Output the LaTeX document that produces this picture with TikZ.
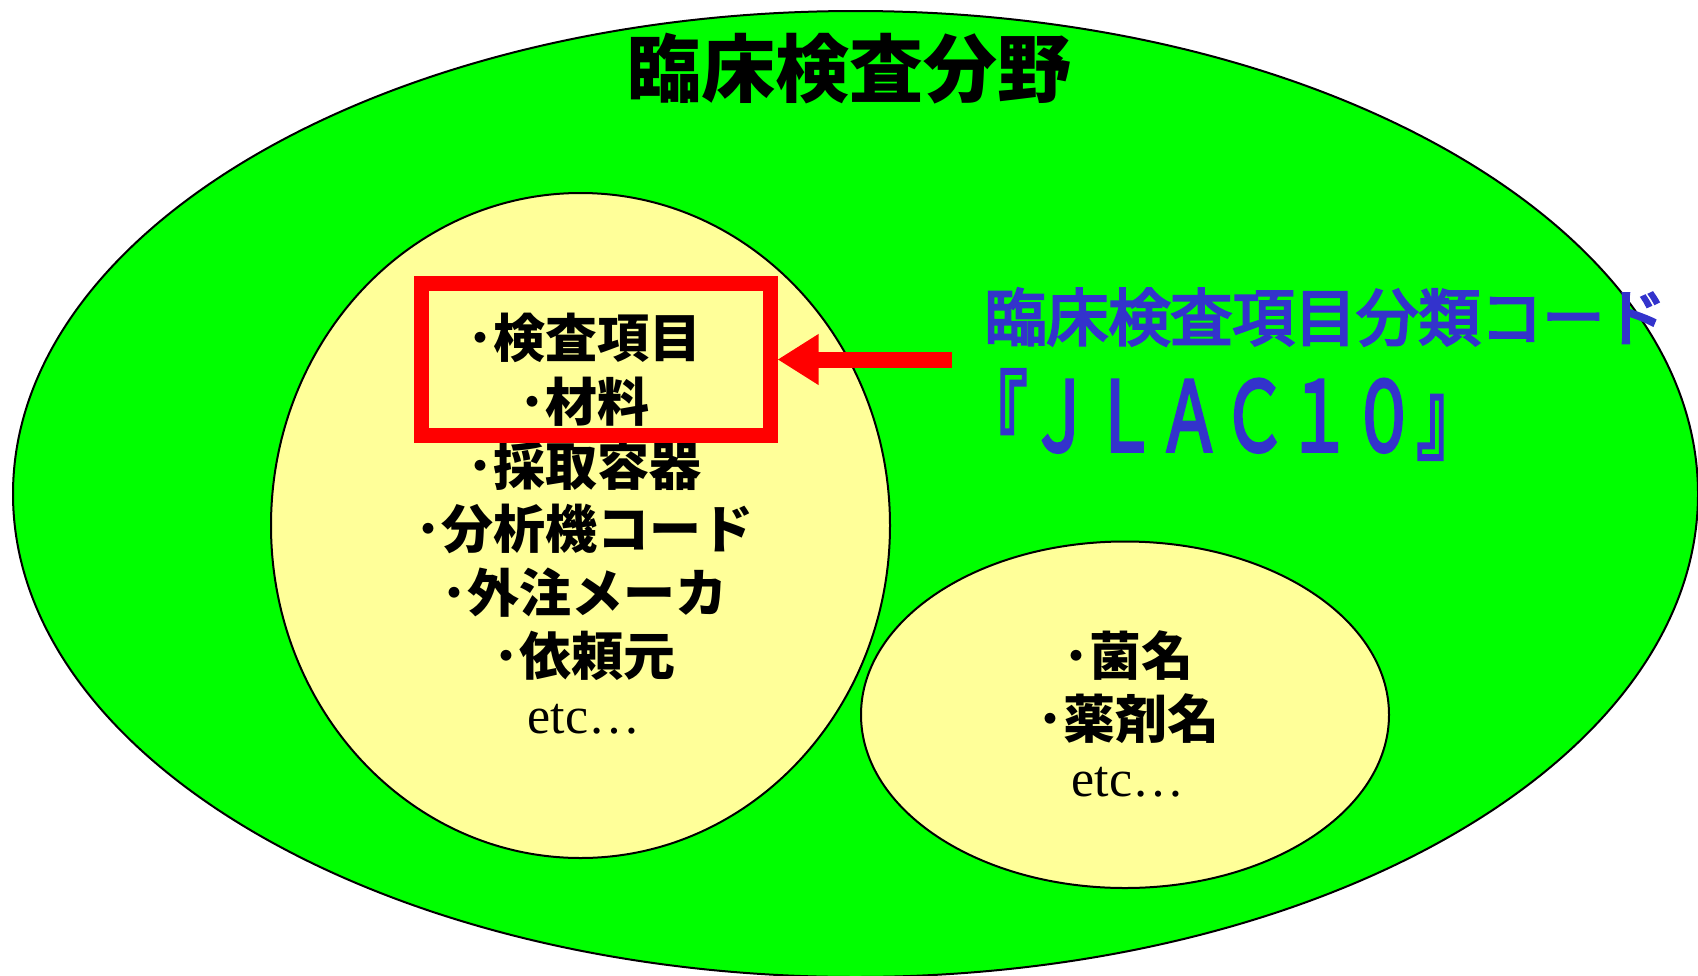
\documentclass[tikz,border=0pt]{standalone}
\usepackage{fontspec}
\setmainfont{Liberation Serif}
\newfontfamily\jpfont{Noto Sans CJK JP}
\newfontfamily\jpmedium{Noto Sans CJK JP}[FakeBold=4]
\usepackage{xcolor}
\usetikzlibrary{arrows.meta,positioning}
\definecolor{fieldgreen}{HTML}{00FF00}
\definecolor{groupyellow}{HTML}{FFFF99}
\definecolor{codeblue}{HTML}{3333CC}
\definecolor{markred}{HTML}{FF0000}
\tikzset{area/.style={draw=black, line width=1pt}}
\tikzset{items/.style={font=\jpfont\bfseries\fontsize{26}{31.8}\selectfont, align=center, inner sep=0pt, anchor=north}}
\tikzset{codetext/.style={font=\jpmedium\fontsize{31}{37}\selectfont, text=codeblue, inner sep=0pt}}
\tikzset{markbox/.style={draw=markred, line width=7.5pt, rectangle, minimum width=174.25pt, minimum height=76pt, inner sep=0pt}}
\tikzset{markarrow/.style={draw=markred, line width=8pt, -{Triangle[length=20.5pt,width=24pt]}}}

\begin{document}
\begin{tikzpicture}[x=0.5pt,y=-0.5pt]
		\useasboundingbox (0,0) rectangle (1698,975);
		\clip (0,0) rectangle (1698,975);
		\draw[area, fill=fieldgreen] (855.5,494) ellipse [x radius=842.5, y radius=483]; % whole field
		\draw[area, fill=groupyellow] (580.5,525.5) ellipse [x radius=309.5, y radius=332.5]; % left group
		\draw[area, fill=groupyellow] (1125,714.75) ellipse [x radius=264, y radius=173.25]; % right group
		\node (field) at (849,69) [font=\jpfont\bfseries\fontsize{37}{44}\selectfont, inner sep=0pt] {臨床検査分野}; % title
		\node (left) at (584,313) [items] {･検査項目\\･材料\\･採取容器\\･分析機コード\\･外注メーカ\\･依頼元\\[-3pt]{\rmfamily\mdseries etc…}}; % left list
		\node (right) at (1128,630) [items] {･菌名\\･薬剤名\\[-3pt]{\rmfamily\mdseries etc…}}; % right list
		\node (code) at (984,317) [codetext, anchor=west] {臨床検査項目分類コード}; % code name
		\node (jlac) at (1222,414.5) [codetext] {\scalebox{0.81}[1.2]{\fontsize{40}{48}\selectfont 『ＪＬＡＣ１０』}}; % code short name
		\node (mark) at (595.75,359.5) [markbox] {}; % frame round first two items
		\coordinate (tail) at (952,359.5); % arrow start
		\draw[markarrow] (tail) -- (mark.east); % arrow to frame
\end{tikzpicture}
\end{document}
